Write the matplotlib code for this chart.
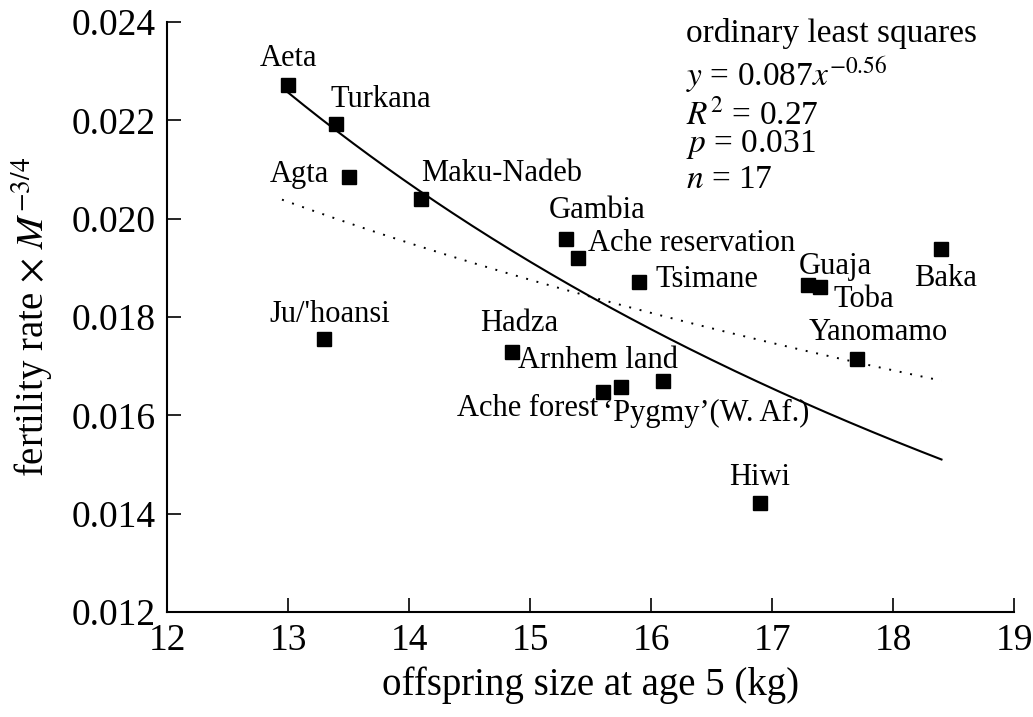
import numpy as np
import matplotlib
matplotlib.use("Agg")
import matplotlib.pyplot as plt

# population data
groups = ["Aeta", "Turkana", "Agta", "Maku-Nadeb", "Gambia", "Ache reservation",
          "Tsimane", "Guaja", "Toba", "Baka", "Yanomamo", "Hiwi", "Ju/'hoansi",
          "Hadza", "Arnhem land", "Ache forest", "\u2018Pygmy\u2019(W. Af.)"]
offspring_size = [13.0, 13.4, 13.5, 14.1, 15.3, 15.4, 15.9, 17.3, 17.4, 18.4,
                  17.7, 16.9, 13.3, 14.85, 15.75, 15.6, 16.1]
fertility = [0.02272, 0.02193, 0.02084, 0.02041, 0.01958, 0.01920, 0.01872,
             0.01865, 0.01862, 0.01938, 0.01715, 0.01421, 0.01755, 0.01729,
             0.01658, 0.01648, 0.01670]

# fitted power laws y = a * x^b (solid curve and dotted OLS line)
solid_a, solid_b, solid_range = 0.4377, -1.156, (13.0, 18.4)
ols_a, ols_b, ols_range = 0.0871, -0.567, (12.95, 18.4)

stats_lines = ["ordinary least squares", r"$y$ = 0.087$x^{-0.56}$",
               r"$R^2$ = 0.27", r"$p$ = 0.031", r"$n$ = 17"]

# label placement: (dx, dy) in pixels from the marker, + alignment
label_pos = {
    "Aeta": (0, 26, "center"),
    "Turkana": (-6, 24, "left"),
    "Agta": (-20, 3, "right"),
    "Maku-Nadeb": (0, 25, "left"),
    "Gambia": (-18, 29, "left"),
    "Ache reservation": (10, 15, "left"),
    "Tsimane": (17, 2, "left"),
    "Guaja": (-10, 19, "left"),
    "Toba": (13, -13, "left"),
    "Baka": (4, -29, "center"),
    "Yanomamo": (21, 26, "center"),
    "Hiwi": (0, 26, "center"),
    "Ju/'hoansi": (5, 25, "center"),
    "Hadza": (7, 28, "center"),
    "Arnhem land": (-103, 26, "left"),
    "Ache forest": (-5, -17, "right"),
    "\u2018Pygmy\u2019(W. Af.)": (-60, -33, "left"),
}

plt.rcParams["font.family"] = ["Liberation Serif", "DejaVu Serif"]
plt.rcParams["mathtext.fontset"] = "stix"

fig = plt.figure(figsize=(10.33, 7.17), dpi=100)
ax = fig.add_axes([0.1617, 0.1464, 0.8200, 0.8229])

xs = np.linspace(*solid_range, 200)
ax.plot(xs, solid_a * xs ** solid_b, color="black", lw=1.5)
xo = np.linspace(*ols_range, 200)
ax.plot(xo, ols_a * xo ** ols_b, color="black", lw=1.4, linestyle=(0, (1, 4.5)))

ax.plot(offspring_size, fertility, "s", color="black", ms=10, ls="none")

px = 0.72  # pixels -> points at 100 dpi
for name, x, y in zip(groups, offspring_size, fertility):
    dx, dy, ha = label_pos[name]
    ax.annotate(name, (x, y), xytext=(dx * px, dy * px), textcoords="offset points",
                ha=ha, va="center", fontsize=22)

for i, line in enumerate(stats_lines):
    yf = [0.980, 0.910, 0.843, 0.792, 0.733][i]
    ax.text(0.613, yf, line, transform=ax.transAxes, fontsize=24,
            ha="left", va="center", clip_on=False)

ax.set_xlim(12, 19)
ax.set_ylim(0.012, 0.024)
ax.set_xticks(np.arange(12, 20, 1))
ax.set_yticks(np.arange(0.012, 0.0241, 0.002))
ax.set_yticklabels([f"{v:.3f}" for v in np.arange(0.012, 0.0241, 0.002)])
ax.tick_params(direction="in", length=10, width=1.2, labelsize=27, pad=8)
for side in ["top", "right"]:
    ax.spines[side].set_visible(False)
for side in ["left", "bottom"]:
    ax.spines[side].set_linewidth(1.5)

ax.set_xlabel("offspring size at age 5 (kg)", fontsize=28, labelpad=6)
ax.set_ylabel(r"fertility rate $\times$ $M^{-3/4}$", fontsize=28, labelpad=12)

plt.savefig("out.png", dpi=100)
